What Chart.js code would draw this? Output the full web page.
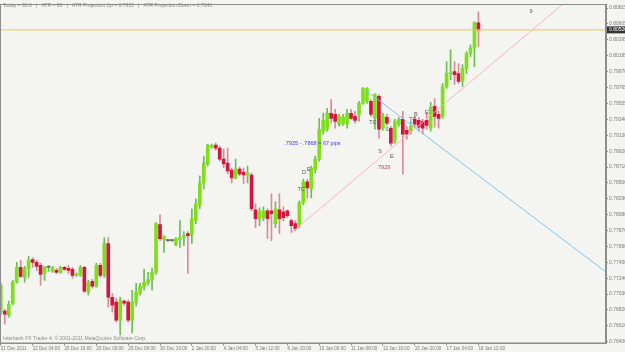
<!DOCTYPE html>
<html>
<head>
<meta charset="utf-8">
<script src="https://cdn.jsdelivr.net/npm/chart.js@4.4.1/dist/chart.umd.min.js"></script>
<style>
html,body{margin:0;padding:0;background:#f4f5f1;}
#wrap{position:relative;width:625px;height:352px;}
</style>
</head>
<body>
<div id="wrap"><canvas id="grafico" width="625" height="352"></canvas></div>
<script>
// velas H4, una por barra (indice 0..120)
const aperturas = [
  0.76791,0.76804,0.76752,0.76910,0.77186,0.77383,0.77251,0.77370,0.77488,0.77449,
  0.77409,0.77304,0.77383,0.77330,0.77344,0.77317,0.77383,0.77370,0.77357,0.77278,
  0.77278,0.77383,0.77054,0.77199,0.77133,0.77409,0.77278,0.77699,0.76988,0.76923,
  0.76686,0.76936,0.76923,0.76686,0.76923,0.77041,0.77120,0.77173,0.77225,0.77317,
  0.77948,0.77751,0.77738,0.77738,0.77685,0.77751,0.77777,0.77830,0.77817,0.78001,
  0.78211,0.78501,0.78751,0.78974,0.79000,0.78961,0.78816,0.78764,0.78672,0.78566,
  0.78685,0.78645,0.78606,0.78606,0.78146,0.78027,0.78040,0.78133,0.78133,0.77962,
  0.78146,0.78119,0.78133,0.78001,0.77962,0.77935,0.78238,0.78514,0.78422,0.78672,
  0.78816,0.79185,0.79211,0.79421,0.79408,0.79277,0.79277,0.79277,0.79421,0.79382,
  0.79408,0.79553,0.79579,0.79579,0.79355,0.79645,0.79224,0.79369,0.79224,0.79053,
  0.79277,0.79342,0.79198,0.79185,0.79342,0.79329,0.79316,0.79329,0.79224,0.79513,
  0.79408,0.79382,0.79776,0.79947,0.79974,0.79947,0.79842,0.80013,0.80210,0.80289,
  0.80618
];
const maximos = [
  0.77173,0.76831,0.76936,0.77212,0.77449,0.77475,0.77396,0.77528,0.77514,0.77475,
  0.77436,0.77396,0.77409,0.77396,0.77370,0.77396,0.77396,0.77409,0.77383,0.77311,
  0.77409,0.77396,0.77212,0.77225,0.77436,0.77436,0.77777,0.77777,0.77041,0.76975,
  0.76988,0.76949,0.76949,0.77081,0.77173,0.77173,0.77357,0.77317,0.77370,0.77975,
  0.78080,0.77804,0.77751,0.77751,0.77777,0.78001,0.77856,0.77856,0.78159,0.78290,
  0.78593,0.78856,0.79014,0.79014,0.79027,0.78987,0.78948,0.78961,0.78698,0.78816,
  0.78711,0.78698,0.78724,0.78632,0.78225,0.78172,0.78185,0.78159,0.78356,0.78251,
  0.78356,0.78185,0.78146,0.78027,0.78001,0.78264,0.78553,0.78553,0.78724,0.78856,
  0.79355,0.79421,0.79487,0.79605,0.79474,0.79408,0.79408,0.79474,0.79474,0.79448,
  0.79579,0.79763,0.79763,0.79605,0.79684,0.79671,0.79421,0.79408,0.79250,0.79342,
  0.79369,0.79448,0.79250,0.79316,0.79382,0.79369,0.79342,0.79421,0.79566,0.79618,
  0.79448,0.79816,0.80105,0.80263,0.80105,0.80079,0.80066,0.80237,0.80329,0.80631,
  0.80763
];
const minimos = [
  0.76752,0.76633,0.76725,0.76883,0.77173,0.77251,0.77186,0.77251,0.77383,0.77344,
  0.77146,0.77212,0.77330,0.77317,0.77304,0.77304,0.77344,0.77304,0.77238,0.77265,
  0.77265,0.77054,0.77015,0.77107,0.77120,0.77251,0.77251,0.76857,0.76791,0.76660,
  0.76489,0.76883,0.76660,0.76515,0.76870,0.77015,0.77081,0.77146,0.77081,0.77291,
  0.77738,0.77580,0.77725,0.77725,0.77672,0.77646,0.77672,0.77304,0.77699,0.77962,
  0.78159,0.78422,0.78724,0.78961,0.78935,0.78790,0.78698,0.78619,0.78501,0.78553,
  0.78593,0.78488,0.78501,0.78133,0.77909,0.77935,0.78001,0.77764,0.77738,0.77909,
  0.77830,0.78001,0.78040,0.77843,0.77869,0.77909,0.78211,0.78303,0.78303,0.78632,
  0.78790,0.79145,0.79185,0.79290,0.79224,0.79250,0.79263,0.79224,0.79342,0.79290,
  0.79316,0.79540,0.79553,0.79382,0.79211,0.79092,0.79198,0.79263,0.78987,0.79027,
  0.79250,0.78619,0.79079,0.79145,0.79237,0.79185,0.79145,0.79211,0.79185,0.79237,
  0.79224,0.79355,0.79750,0.79868,0.79803,0.79816,0.79776,0.79947,0.80171,0.80039,
  0.80302
];
const cierres = [
  0.77146,0.76765,0.76896,0.77186,0.77383,0.77265,0.77370,0.77475,0.77449,0.77396,
  0.77291,0.77383,0.77383,0.77370,0.77317,0.77383,0.77357,0.77344,0.77278,0.77298,
  0.77383,0.77067,0.77186,0.77133,0.77409,0.77278,0.77699,0.76988,0.76883,0.76686,
  0.76949,0.76910,0.76686,0.76923,0.77054,0.77133,0.77186,0.77225,0.77317,0.77962,
  0.77764,0.77791,0.77738,0.77738,0.77764,0.77777,0.77804,0.77804,0.78027,0.78225,
  0.78501,0.78764,0.79000,0.78994,0.78961,0.78816,0.78751,0.78659,0.78566,0.78685,
  0.78619,0.78606,0.78632,0.78159,0.78027,0.78133,0.78133,0.78027,0.78093,0.78159,
  0.78027,0.78040,0.78067,0.77935,0.77896,0.78238,0.78514,0.78435,0.78698,0.78816,
  0.79211,0.79329,0.79421,0.79355,0.79316,0.79382,0.79369,0.79421,0.79355,0.79329,
  0.79553,0.79750,0.79750,0.79408,0.79671,0.79211,0.79382,0.79290,0.79027,0.79316,
  0.79342,0.79145,0.79145,0.79250,0.79277,0.79237,0.79224,0.79263,0.79500,0.79382,
  0.79355,0.79776,0.79947,0.79960,0.79934,0.79842,0.80013,0.80210,0.80289,0.80618,
  0.80526
];

// eje de tiempo: una etiqueta cada 8 barras
const posTiempo = [0,8,16,24,32,40,48,56,64,72,80,88,96,104,112,120];
const etiquetasTiempo = ['21 Dec 2011','22 Dec 04:00','26 Dec 16:00','28 Dec 00:00','29 Dec 08:00','30 Dec 16:00','2 Jan 20:00','4 Jan 04:00','5 Jan 12:00','6 Jan 20:00','10 Jan 00:00','11 Jan 08:00','12 Jan 16:00','15 Jan 20:00','17 Jan 04:00','18 Jan 12:00'];

// eje de precios
const preciosEje = [0.80815,0.80605,0.80395,0.80185,0.79970,0.79765,0.79555,0.79340,0.79130,0.78920,0.78710,0.78500,0.78290,0.78080,0.77870,0.77660,0.77450,0.77240,0.77030,0.76820,0.76610,0.76400];
const etiquetasPrecio = ['0.80815','0.80605','0.80395','0.80185','0.79970','0.79765','0.79555','0.79340','0.79130','0.78920','0.78710','0.78500','0.78290','0.78080','0.77870','0.77660','0.77450','0.77240','0.77030','0.76820','0.76610','0.76400'];
const precioActual = 0.80526;

// lineas de tendencia [barra, precio]
const lineaRosa = [[73, 0.77843], [152, 0.81345]];
const lineaAzul = [[92.3, 0.79700], [152.05, 0.77321]];

// textos sobre el grafico [texto, barra, precio, color]
const notas = [
  ['.7935 - .7868 = 67 pips', 71.2, 0.79027, '#3a3af0'],
  ['.7929', 94.4, 0.78711, '#e03040'],
  ['TC', 92.6, 0.79303, '#555555'],
  ['S', 96.6, 0.79214, '#555555'],
  ['S', 94.8, 0.78923, '#555555'],
  ['E', 97.8, 0.78857, '#555555'],
  ['TC', 102.6, 0.79338, '#555555'],
  ['B', 103.8, 0.79404, '#555555'],
  ['E', 106.6, 0.79434, '#555555'],
  ['TC', 74.6, 0.78408, '#555555'],
  ['D', 75.7, 0.78645, '#555555'],
  ['E', 76.9, 0.78685, '#555555'],
  ['9', 132.8, 0.80763, '#4a5a7a']
];
const textoInfo = 'Today = 98.8   |   ATR = 98   |   ATR Projection Up = 0.7922   |   ATR Projection Down = 0.7646';
const textoPie = 'Interbank FX Trader 4, \u00a9 2001-2011 MetaQuotes Software Corp.';

const indices = aperturas.map((_, i) => i);
const colorCuerpo = indices.map(i => cierres[i] === aperturas[i] ? '#666666' : (cierres[i] > aperturas[i] ? '#7ee01a' : '#d0173d'));
const colorMecha = indices.map(i => cierres[i] >= aperturas[i] ? '#6cbc58' : '#dc8a98');

const mechas = indices.map(i => ({x: i, y: [minimos[i], maximos[i]]}));
const cuerpos = indices.map(i => ({x: i, y: [aperturas[i], cierres[i]]}));

const fondo = {
  id: 'fondo',
  beforeDraw(chart) {
    const c = chart.ctx;
    c.save();
    c.fillStyle = '#f4f5f1';
    c.fillRect(0, 0, chart.width, chart.height);
    c.restore();
  }
};

const dibujos = {
  id: 'dibujos',
  afterDatasetsDraw(chart) {
    const c = chart.ctx;
    const a = chart.chartArea;
    const sx = chart.scales.x, sy = chart.scales.y;
    c.save();
    c.strokeStyle = '#8c8c8c';
    c.lineWidth = 1;
    c.strokeRect(a.left + 0.5, a.top + 0.5, a.right - a.left - 1, a.bottom - a.top - 1);

    c.textBaseline = 'middle';
    c.textAlign = 'left';
    c.font = '5.5px "Liberation Sans"';
    for (const [t, bx, pr, col] of notas) {
      c.fillStyle = col;
      c.fillText(t, sx.getPixelForValue(bx), sy.getPixelForValue(pr));
    }

    c.fillStyle = '#8a8a8a';
    c.font = '5px "Liberation Sans"';
    c.fillText(textoInfo, 3, 6);
    c.fillText(textoPie, 3, 339);

    const py = sy.getPixelForValue(precioActual);
    c.fillStyle = '#333333';
    c.fillRect(a.right + 1, py - 3.5, 20, 7);
    c.fillStyle = '#ffffff';
    c.fillText(precioActual.toFixed(5), a.right + 3, py);
    c.restore();
  }
};

const ctx = document.querySelector('#grafico');
const grafico = new Chart(ctx, {
  type: 'bar',
  data: {
    datasets: [
      {type: 'bar', data: mechas, backgroundColor: colorMecha, barThickness: 1, grouped: false, order: 3},
      {type: 'bar', data: cuerpos, backgroundColor: colorCuerpo, barThickness: 3, grouped: false, minBarLength: 1, order: 2},
      {type: 'line', data: lineaRosa.map(([x, y]) => ({x, y})), borderColor: '#ffb0bf', borderWidth: 1, pointRadius: 0, order: 1},
      {type: 'line', data: lineaAzul.map(([x, y]) => ({x, y})), borderColor: '#7cc4f4', borderWidth: 1, pointRadius: 0, order: 1},
      {type: 'line', data: [{x: -1, y: precioActual}, {x: 153, y: precioActual}], borderColor: '#f2cc3a', borderWidth: 1, pointRadius: 0, order: 1}
    ]
  },
  options: {
    responsive: false,
    animation: false,
    devicePixelRatio: 1,
    layout: {padding: {top: 2, left: 0, right: 0, bottom: 0}},
    plugins: {legend: {display: false}, tooltip: {enabled: false}},
    scales: {
      x: {
        type: 'linear',
        min: -0.2,
        max: 152.05,
        offset: false,
        grid: {display: true, drawOnChartArea: false, offset: false, tickLength: 2, color: '#8c8c8c'},
        border: {color: '#8c8c8c'},
        afterBuildTicks: s => { s.ticks = posTiempo.map(v => ({value: v})); },
        afterFit: s => { s.height = 8.5; },
        ticks: {
          autoSkip: false, maxRotation: 0, align: 'start', padding: 0,
          color: '#7a7a7a', font: {family: 'Liberation Sans', size: 4.6},
          callback: v => etiquetasTiempo[posTiempo.indexOf(v)]
        }
      },
      y: {
        position: 'right',
        min: 0.76376,
        max: 0.80868,
        grid: {display: true, drawOnChartArea: false, tickLength: 2, color: '#8c8c8c'},
        border: {color: '#8c8c8c'},
        afterBuildTicks: s => { s.ticks = preciosEje.map(v => ({value: v})); },
        afterFit: s => { s.width = 19; },
        ticks: {
          autoSkip: false, padding: 1,
          color: '#7a7a7a', font: {family: 'Liberation Sans', size: 5},
          callback: v => etiquetasPrecio[preciosEje.indexOf(v)]
        }
      }
    }
  },
  plugins: [fondo, dibujos]
});
</script>
</body>
</html>
